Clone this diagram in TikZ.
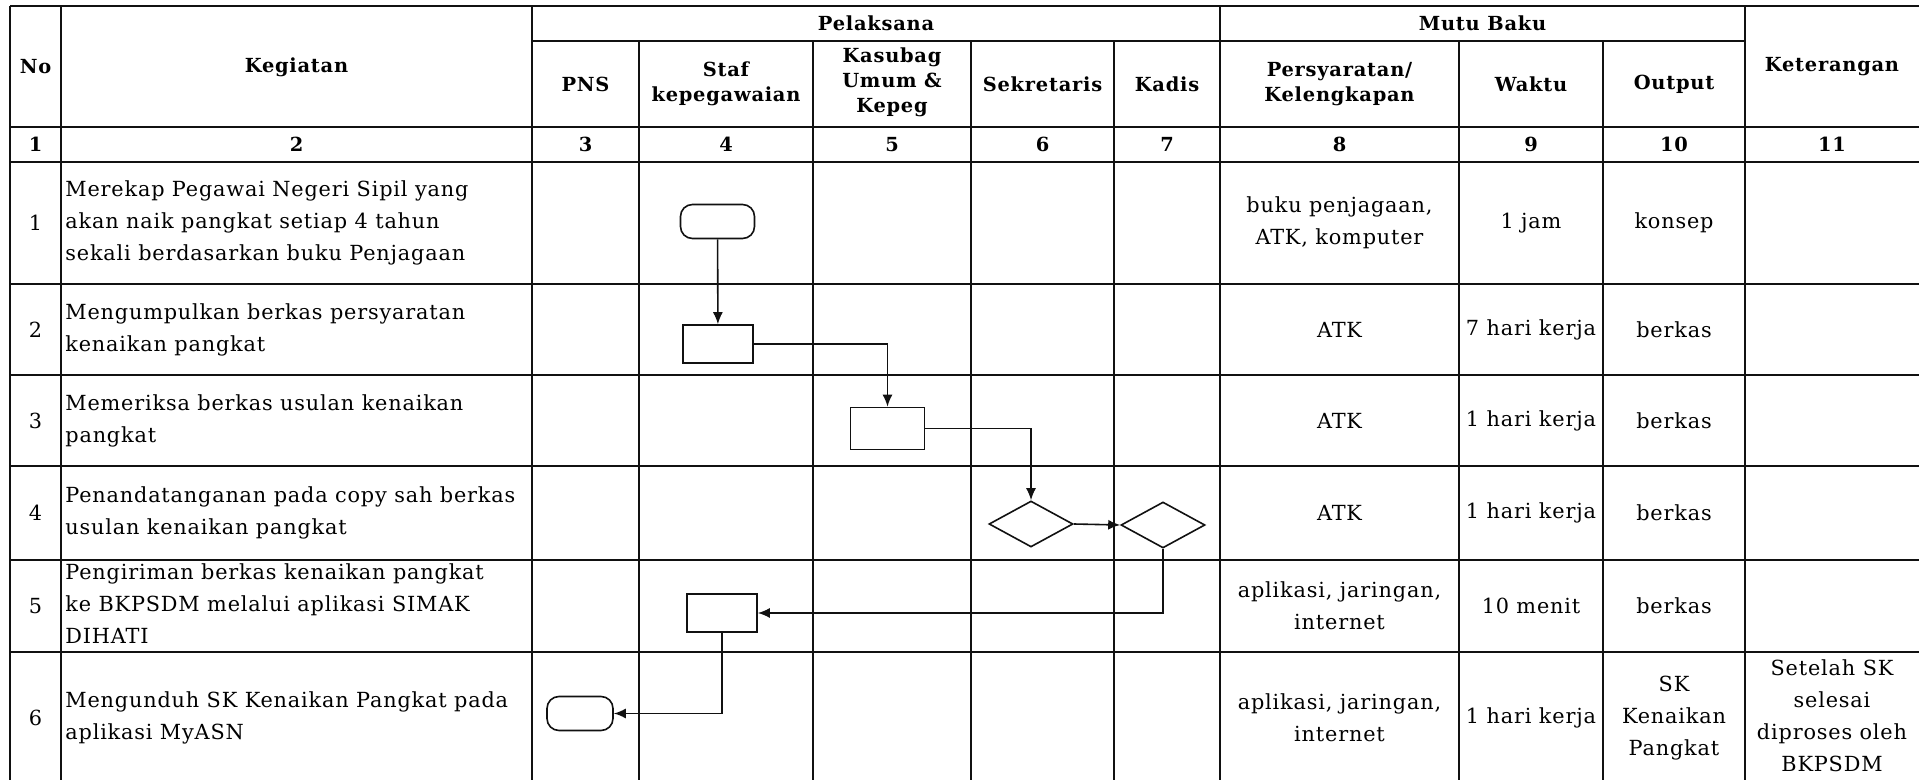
\documentclass[tikz,border=0pt]{standalone}
\usepackage{fontspec}
\setmainfont{DejaVu Serif}[LetterSpace=4]
\usepackage{tikz}
\usetikzlibrary{arrows.meta,shapes.geometric}
\definecolor{ink}{HTML}{111111}

\begin{document}
\begin{tikzpicture}[
        x=0.5pt,y=-0.5pt,
        grid/.style={ink,line width=1.1pt},
        hd/.style={font=\fontsize{9.7}{12.5}\selectfont\bfseries,align=center,inner sep=0pt},
        txt/.style={font=\fontsize{10.4}{16}\selectfont,align=center,inner sep=0pt},
        keg/.style={txt,align=left,anchor=west},
        shp/.style={draw=ink,line width=0.8pt,inner sep=0pt},
        term/.style={shp,rounded corners=6pt,minimum width=37pt,minimum height=17pt},
        proc/.style={shp,minimum width=35pt,minimum height=19pt},
        dec/.style={shp,diamond,minimum width=42pt,minimum height=23pt},
        flow/.style={-{Latex[length=6pt,width=5pt]},ink,line width=0.8pt}
      ]
  \useasboundingbox (0,0) rectangle (1919,780);
  % table rules
  \draw[grid] (10,6) -- (1919,6) (532,41) -- (1745,41)
    (10,127) -- (1919,127) (10,162) -- (1919,162)
    (10,284) -- (1919,284) (10,375) -- (1919,375) (10,466) -- (1919,466)
    (10,560) -- (1919,560) (10,652) -- (1919,652);
  \draw[grid] (10,6) -- (10,780) (61,6) -- (61,780) (532,6) -- (532,780)
    (639,41) -- (639,780) (813,41) -- (813,780) (971,41) -- (971,780)
    (1114,41) -- (1114,780) (1220,6) -- (1220,780)
    (1459,41) -- (1459,780) (1603,41) -- (1603,780) (1745,6) -- (1745,780);

  % header
  \node[hd] (no) at (35.5,67) {No};
  \node[hd] (kegiatan) at (296.5,67) {Kegiatan};
  \node[hd] (pelaksana) at (876,23.5) {Pelaksana};
  \node[hd] (pns) at (585.5,84) {PNS};
  \node[hd] (staf) at (726,84) {Staf\\kepegawaian};
  \node[hd] (kasubag) at (892,82) {Kasubag\\Umum \&\\Kepeg};
  \node[hd] (sekretaris) at (1042.5,84) {Sekretaris};
  \node[hd] (kadis) at (1167,84) {Kadis};
  \node[hd] (mutu) at (1482.5,23.5) {Mutu Baku};
  \node[hd] (syarat) at (1339.5,84) {Persyaratan/\\Kelengkapan};
  \node[hd] (waktu) at (1531,84) {Waktu};
  \node[hd] (output) at (1674,84) {Output};
  \node[hd] (ket) at (1832,67) {Keterangan};

  \node[hd] (c1) at (35.5,144.5) {1};
  \node[hd] (c2) at (296.5,144.5) {2};
  \node[hd] (c3) at (585.5,144.5) {3};
  \node[hd] (c4) at (726,144.5) {4};
  \node[hd] (c5) at (892,144.5) {5};
  \node[hd] (c6) at (1042.5,144.5) {6};
  \node[hd] (c7) at (1167,144.5) {7};
  \node[hd] (c8) at (1339.5,144.5) {8};
  \node[hd] (c9) at (1531,144.5) {9};
  \node[hd] (c10) at (1674,144.5) {10};
  \node[hd] (c11) at (1832,144.5) {11};

  % row 1
  \node[txt] (n1) at (35.5,223) {1};
  \node[keg] (k1) at (65,223) {Merekap Pegawai Negeri Sipil yang\\akan naik pangkat setiap 4 tahun\\sekali berdasarkan buku Penjagaan};
  \node[txt] (s1) at (1339.5,223) {buku penjagaan,\\ATK, komputer};
  \node[txt] (w1) at (1531,223) {1 jam};
  \node[txt] (o1) at (1674,223) {konsep};
  % row 2
  \node[txt] (n2) at (35.5,329.5) {2};
  \node[keg] (k2) at (65,329.5) {Mengumpulkan berkas persyaratan\\kenaikan pangkat};
  \node[txt] (s2) at (1339.5,329.5) {ATK};
  \node[txt] (w2) at (1531,329.5) {7 hari kerja};
  \node[txt] (o2) at (1674,329.5) {berkas};
  % row 3
  \node[txt] (n3) at (35.5,420.5) {3};
  \node[keg] (k3) at (65,420.5) {Memeriksa berkas usulan kenaikan\\pangkat};
  \node[txt] (s3) at (1339.5,420.5) {ATK};
  \node[txt] (w3) at (1531,420.5) {1 hari kerja};
  \node[txt] (o3) at (1674,420.5) {berkas};
  % row 4
  \node[txt] (n4) at (35.5,513) {4};
  \node[keg] (k4) at (65,513) {Penandatanganan pada copy sah berkas\\usulan kenaikan pangkat};
  \node[txt] (s4) at (1339.5,513) {ATK};
  \node[txt] (w4) at (1531,513) {1 hari kerja};
  \node[txt] (o4) at (1674,513) {berkas};
  % row 5
  \node[txt] (n5) at (35.5,606) {5};
  \node[keg] (k5) at (65,604) {Pengiriman berkas kenaikan pangkat\\ke BKPSDM melalui aplikasi SIMAK\\DIHATI};
  \node[txt] (s5) at (1339.5,606) {aplikasi, jaringan,\\internet};
  \node[txt] (w5) at (1531,606) {10 menit};
  \node[txt] (o5) at (1674,606) {berkas};
  % row 6
  \node[txt] (n6) at (35.5,718) {6};
  \node[keg] (k6) at (65,718) {Mengunduh SK Kenaikan Pangkat pada\\aplikasi MyASN};
  \node[txt] (s6) at (1339.5,718) {aplikasi, jaringan,\\internet};
  \node[txt] (w6) at (1531,718) {1 hari kerja};
  \node[txt] (o6) at (1674,718) {SK\\Kenaikan\\Pangkat};
  \node[txt] (ket6) at (1832,716) {Setelah SK\\selesai\\diproses oleh\\BKPSDM};

  % flow shapes
  \node[term] (t1) at (717.5,221.5) {};
  \node[proc] (p2) at (718,344) {};
  \node[proc,minimum width=37pt,minimum height=21pt] (p3) at (887.5,428.5) {};
  \node[dec] (d1) at (1031,524) {};
  \node[dec] (d2) at (1163,525) {};
  \node[proc] (p5) at (722,613) {};
  \node[term,minimum width=33pt] (t6) at (580,713.5) {};

  \draw[flow] (t1) -- (p2);
  \draw[flow] (p2.east) -| (p3.north);
  \draw[flow] (p3.east) -| (d1.north);
  \draw[flow] (d1.east) -- (d2.west);
  \draw[flow] (d2.south) |- (p5.east);
  \draw[flow] (p5.south) |- (t6.east);
\end{tikzpicture}
\end{document}
